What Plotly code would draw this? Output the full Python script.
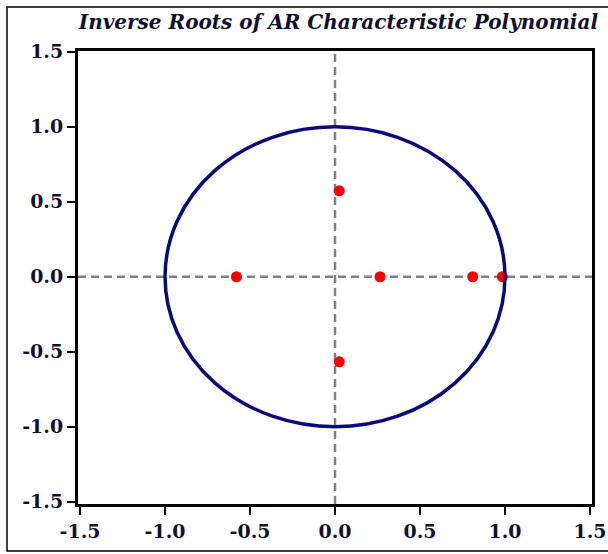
import plotly.graph_objects as go

root_re = [-0.58, 0.025, 0.025, 0.265, 0.81, 0.985]
root_im = [0.0, 0.573, -0.567, 0.0, 0.0, 0.0]

tick_vals = [-1.5, -1.0, -0.5, 0.0, 0.5, 1.0, 1.5]
tick_text = ["-1.5", "-1.0", "-0.5", "0.0", "0.5", "1.0", "1.5"]

title_text = "Inverse Roots of AR Characteristic Polynomial"

W, H = 608, 554
ml, mr, mt, mb = 78, 16, 51, 50
pw, ph = W - ml - mr, H - mt - mb

font_fam = "DejaVu Serif"
txt_col = "#111133"

fig = go.Figure()

fig.add_trace(go.Scatter(
    x=root_re, y=root_im, mode="markers",
    marker=dict(color="#ff0000", size=11, line=dict(width=0)),
    showlegend=False, hoverinfo="x+y",
))

# dashed zero lines
fig.add_shape(type="line", xref="x", yref="paper", x0=0, x1=0, y0=0, y1=1,
              line=dict(color="#808080", width=2.5, dash="8px,5px"), layer="below")
fig.add_shape(type="line", xref="paper", yref="y", x0=0, x1=1, y0=0, y1=0,
              line=dict(color="#808080", width=2.5, dash="8px,5px"), layer="below")
# unit circle
fig.add_shape(type="circle", xref="x", yref="y", x0=-1, y0=-1, x1=1, y1=1,
              line=dict(color="#0a0a80", width=3.5))

# outer border of the picture
bx0 = (7 - ml) / pw
bx1 = (W + 5 - ml) / pw
by1 = (H - mb - 7) / ph
by0 = (H - mb - 551) / ph
fig.add_shape(type="rect", xref="paper", yref="paper", x0=bx0, x1=bx1, y0=by0, y1=by1,
              line=dict(color="black", width=1.5), fillcolor="rgba(0,0,0,0)")

axis_common = dict(
    tickmode="array", tickvals=tick_vals, ticktext=tick_text,
    ticks="outside", ticklen=8, tickwidth=2, tickcolor="black",
    showline=True, linecolor="black", linewidth=3, mirror=True,
    showgrid=False, zeroline=False, automargin=False,
    tickfont=dict(family=font_fam, size=19, color=txt_col, weight="bold"),
)

fig.update_layout(
    width=W, height=H,
    margin=dict(l=ml, r=mr, t=mt, b=mb, autoexpand=False),
    paper_bgcolor="white", plot_bgcolor="white",
    title=dict(
        text="<b><i>" + title_text + "</i></b>",
        x=598 / W, xanchor="right", xref="container",
        y=1 - 22 / H, yanchor="middle", yref="container",
        font=dict(family=font_fam, size=20, color=txt_col),
    ),
    xaxis=dict(range=[-1.512, 1.512], **axis_common),
    yaxis=dict(range=[-1.515, 1.505], **axis_common),
)

fig.write_html("out.html")
